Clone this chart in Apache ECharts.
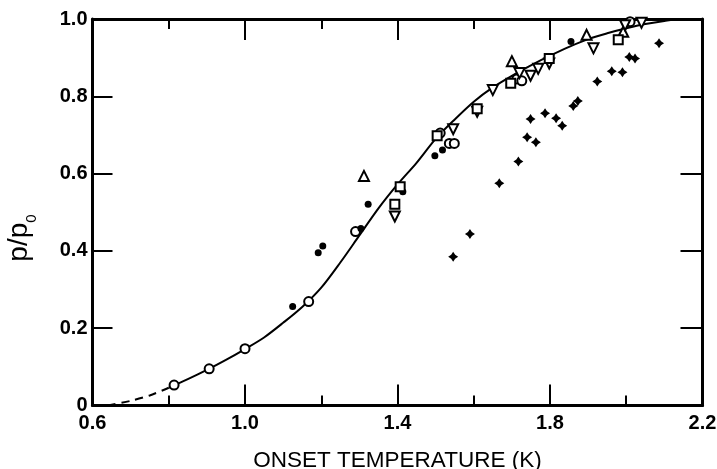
<!DOCTYPE html>
<html>
<head>
<meta charset="utf-8">
<script src="https://cdn.jsdelivr.net/npm/echarts@6/dist/echarts.min.js"></script>
<style>
html,body{margin:0;padding:0;background:#fff;}
#chart{width:717px;height:469px;}
</style>
</head>
<body>
<div id="chart"></div>
<script>
// ---- data ----
var xMajorTicks = [0.6, 1.0, 1.4, 1.8, 2.2];
var xMinorTicks = [0.8, 1.2, 1.6, 2.0];
var curveDashed = [[0.64,0],[0.7,0.012],[0.75,0.026],[0.8,0.046]];
var curveSolid = [[0.8,0.046],[0.85,0.068],[0.9,0.092],[0.95,0.118],[1.0,0.146],[1.05,0.176],[1.1,0.214],[1.15,0.255],[1.2,0.305],[1.25,0.37],[1.3,0.44],[1.35,0.51],[1.4,0.572],[1.45,0.628],[1.5,0.69],[1.55,0.74],[1.6,0.786],[1.65,0.823],[1.7,0.853],[1.75,0.88],[1.8,0.905],[1.85,0.928],[1.9,0.948],[1.95,0.963],[2.0,0.976],[2.05,0.987],[2.1,0.995],[2.15,1.0],[2.2,1.0]];
var openCircles = [[0.814,0.053],[0.906,0.095],[1.0,0.147],[1.167,0.269],[1.29,0.45],[1.512,0.705],[1.536,0.678],[1.549,0.678],[1.713,0.845],[1.726,0.84],[2.01,0.993]];
var filledDots = [[1.125,0.256],[1.192,0.395],[1.204,0.413],[1.304,0.458],[1.323,0.521],[1.414,0.553],[1.498,0.646],[1.518,0.661],[1.855,0.942]];
var triUp = [[1.312,0.594],[1.70,0.891],[1.896,0.959],[1.992,0.967]];
var triDown = [[1.393,0.489],[1.546,0.715],[1.609,0.76],[1.65,0.816],[1.72,0.86],[1.749,0.853],[1.769,0.871],[1.798,0.885],[1.914,0.924],[1.997,0.984],[2.04,0.99]];
var squares = [[1.407,0.566],[1.393,0.521],[1.504,0.698],[1.609,0.768],[1.697,0.834],[1.798,0.898],[1.979,0.946]];
var plusMarks = [[1.546,0.385],[1.59,0.444],[1.667,0.575],[1.717,0.631],[1.74,0.694],[1.763,0.681],[1.749,0.741],[1.787,0.756],[1.816,0.743],[1.832,0.724],[1.861,0.775],[1.873,0.788],[1.924,0.838],[1.962,0.865],[1.99,0.862],[2.008,0.902],[2.023,0.898],[2.086,0.937]];

var FONT = '"Liberation Sans", Arial, sans-serif';
var chart = echarts.init(document.getElementById('chart'), null, {renderer:'canvas'});

function xAx(pos, ticks, len, showLine, showLabel, extra) {
  var a = {
    type:'value', position:pos, min:0.6, max:2.2,
    axisLine:{show:showLine, onZero:false, lineStyle:{color:'#000', width:3}},
    axisTick:{show:true, inside:true, length:len, customValues:ticks, lineStyle:{color:'#000', width:2}},
    axisLabel:{show:showLabel},
    splitLine:{show:false}
  };
  if (showLabel) {
    a.axisLabel = {show:true, customValues:xMajorTicks, color:'#000', fontFamily:FONT, fontSize:20, fontWeight:'bold', margin:8,
      formatter:function(v){return v.toFixed(1);}};
  }
  if (extra) for (var k in extra) a[k] = extra[k];
  return a;
}

var openStyle = {color:'#fff', borderColor:'#000', borderWidth:2, opacity:1};

var option = {
  backgroundColor:'#fff',
  animation:false,
  grid:{left:92.5, right:14.5, top:19, bottom:63.5, containLabel:false, outerBoundsMode:'none'},
  graphic:[{
    type:'text', x:19, y:238, rotation:Math.PI/2,
    style:{text:'{a|p/p}{b|0}', align:'center', verticalAlign:'middle', fill:'#000',
      rich:{a:{fontSize:28, fontFamily:FONT, fill:'#000'},
            b:{fontSize:15, fontFamily:FONT, fill:'#000', verticalAlign:'bottom', padding:[0,0,-6,0]}}}
  }],
  xAxis:[
    xAx('bottom', xMajorTicks, 21, true, true, {
      name:'ONSET TEMPERATURE (K)', nameLocation:'middle', nameGap:44,
      nameTextStyle:{color:'#000', fontFamily:FONT, fontSize:22.5}
    }),
    xAx('bottom', xMinorTicks, 10, false, false),
    xAx('top', xMajorTicks, 21, true, false),
    xAx('top', xMinorTicks, 10, false, false)
  ],
  yAxis:[
    {type:'value', position:'left', min:0, max:1, interval:0.2,
     axisLine:{show:true, onZero:false, lineStyle:{color:'#000', width:3}},
     axisTick:{show:true, inside:true, length:20, lineStyle:{color:'#000', width:2}},
     axisLabel:{color:'#000', fontFamily:FONT, fontSize:20, fontWeight:'bold', margin:5,
       formatter:function(v){return v===0?'0':v.toFixed(1);}},
     splitLine:{show:false}
    },
    {type:'value', position:'right', min:0, max:1, interval:0.2,
     axisLine:{show:true, onZero:false, lineStyle:{color:'#000', width:3}},
     axisTick:{show:true, inside:true, length:22, lineStyle:{color:'#000', width:2}},
     axisLabel:{show:false}, splitLine:{show:false}}
  ],
  series:[
    {type:'line', data:curveDashed, showSymbol:false, smooth:0.3,
     lineStyle:{color:'#000', width:2, type:[8,6]}, z:2},
    {type:'line', data:curveSolid, showSymbol:false, smooth:0.3,
     lineStyle:{color:'#000', width:2}, z:2},
    {type:'scatter', data:openCircles, symbol:'circle', symbolSize:9, itemStyle:openStyle, z:5},
    {type:'scatter', data:filledDots, symbol:'circle', symbolSize:7, itemStyle:{color:'#000', opacity:1}, z:5},
    {type:'scatter', data:triUp, symbol:'triangle', symbolSize:10, itemStyle:openStyle, z:5},
    {type:'scatter', data:triDown, symbol:'triangle', symbolRotate:180, symbolSize:10, itemStyle:openStyle, z:5},
    {type:'scatter', data:squares, symbol:'rect', symbolSize:9, itemStyle:openStyle, z:5},
    {type:'scatter', data:plusMarks,
     symbol:'path://M0,-10 L4,-4 L10,0 L4,4 L0,10 L-4,4 L-10,0 L-4,-4 Z',
     symbolSize:10, itemStyle:{color:'#000', opacity:1}, z:5}
  ]
};
chart.setOption(option);
</script>
</body>
</html>
